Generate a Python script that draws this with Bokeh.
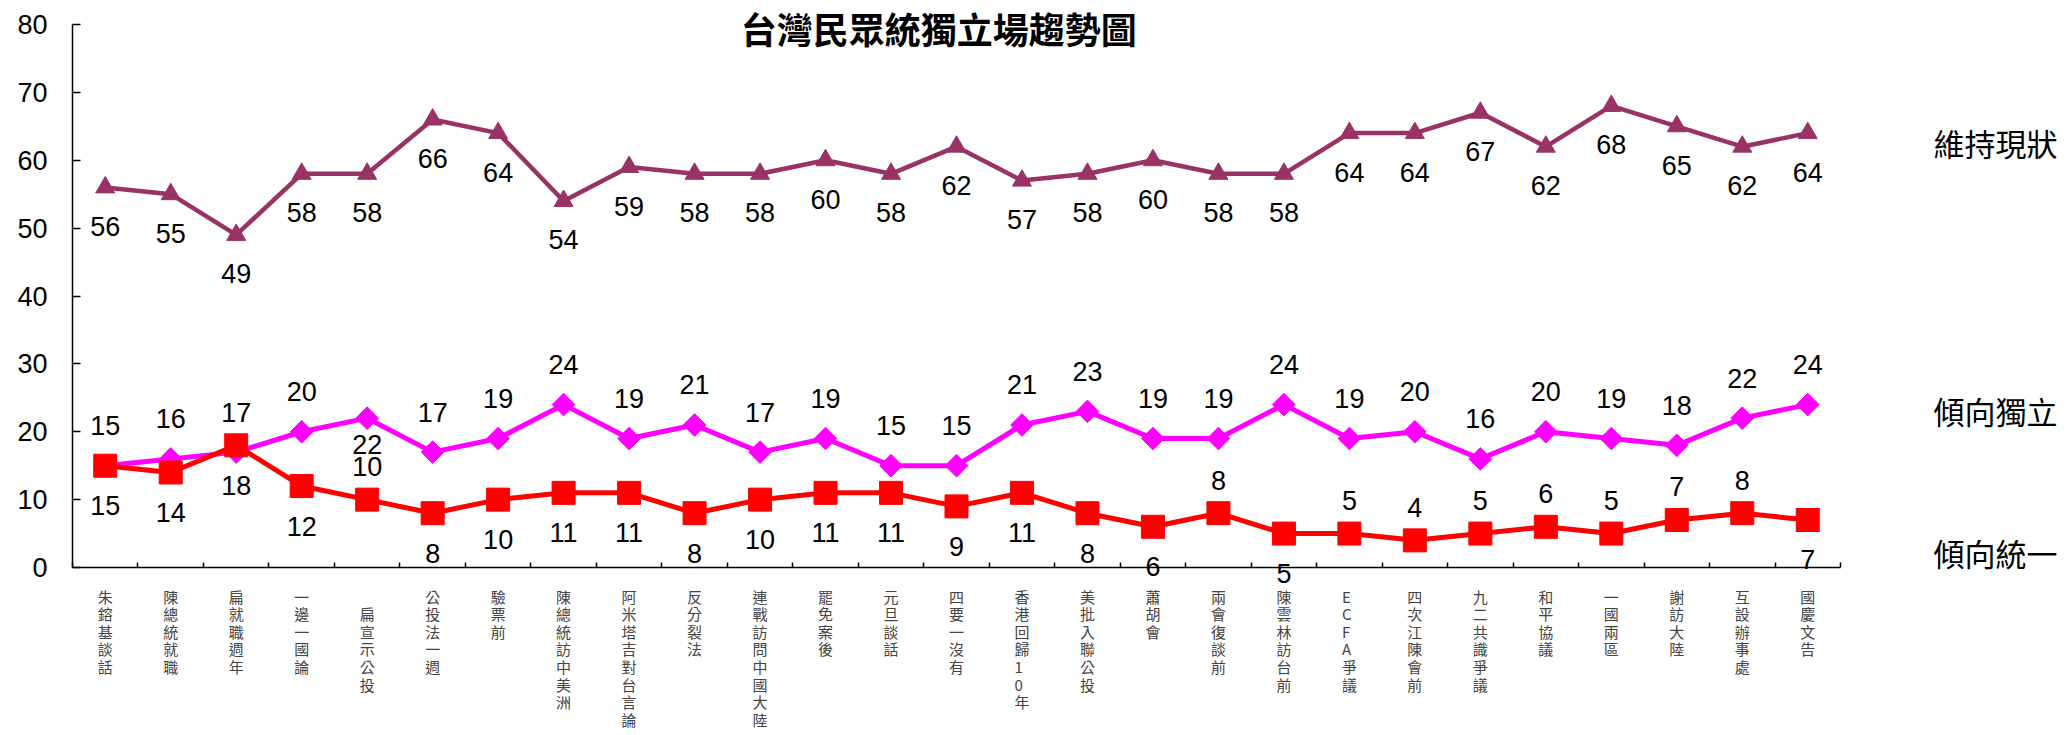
from bokeh.plotting import figure
from bokeh.models import ColumnDataSource, LabelSet, Label, Range1d, FixedTicker
from bokeh.core.properties import value
from bokeh.embed import file_html
from bokeh.resources import INLINE
import math

# ---------------- data ----------------
events = ["朱鎔基談話", "陳總統就職", "扁就職週年", "一邊一國論", "扁宣示公投",
          "公投法一週", "驗票前", "陳總統訪中美洲", "阿米塔吉對台言論", "反分裂法",
          "連戰訪問中國大陸", "罷免案後", "元旦談話", "四要一沒有", "香港回歸10年",
          "美批入聯公投", "蕭胡會", "兩會復談前", "陳雲林訪台前", "ECFA爭議",
          "四次江陳會前", "九二共識爭議", "和平協議", "一國兩區", "謝訪大陸",
          "互設辦事處", "國慶文告"]
status_quo = [56, 55, 49, 58, 58, 66, 64, 54, 59, 58, 58, 60, 58, 62, 57, 58, 60, 58, 58,
              64, 64, 67, 62, 68, 65, 62, 64]
independence = [15, 16, 17, 20, 22, 17, 19, 24, 19, 21, 17, 19, 15, 15, 21, 23, 19, 19, 24,
                19, 20, 16, 20, 19, 18, 22, 24]
unification = [15, 14, 18, 12, 10, 8, 10, 11, 11, 8, 10, 11, 11, 9, 11, 8, 6, 8, 5,
               5, 4, 5, 6, 5, 7, 8, 7]
y_ticks = [0, 10, 20, 30, 40, 50, 60, 70, 80]
title_text = "台灣民眾統獨立場趨勢圖"
series_names = ["維持現狀", "傾向獨立", "傾向統一"]

# label placement (style): indices whose value label sits on the other side
unif_label_above = {4, 17, 19, 20, 21, 22, 23, 24, 25}
indep_label_below = {4}
event_blank_first_line = {4}

n = len(events)
Y_MAX = 80

# ---------------- geometry (canvas px) ----------------
W, H = 2066, 735
AX_L, AX_R = 72, 1840      # canvas x of first and last category edge
AX_T, AX_B = 24, 567       # canvas y of value 80 and value 0
px_x = (AX_R - AX_L) / n
px_y = (AX_B - AX_T) / Y_MAX
x0 = -AX_L / px_x
x1 = n + (W - AX_R) / px_x
y1 = Y_MAX + AX_T / px_y
y0 = -(H - AX_B) / px_y

p = figure(width=W, height=H, output_backend="svg", toolbar_location=None, title=None,
           x_range=Range1d(x0, x1), y_range=Range1d(y0, y1),
           min_border=0, min_border_left=0, min_border_right=0,
           min_border_top=0, min_border_bottom=0)
p.outline_line_color = None
p.xgrid.grid_line_color = None
p.ygrid.grid_line_color = None
p.background_fill_color = "white"
p.border_fill_color = "white"

xs = [i + 0.5 for i in range(n)]

# x axis: fixed at value 0, boundary ticks only
xa = p.xaxis[0]
xa.fixed_location = 0
xa.bounds = (0, n)
xa.ticker = FixedTicker(ticks=[], minor_ticks=list(range(n + 1)))
xa.axis_line_color = "black"
xa.axis_line_width = 1.5
xa.minor_tick_line_color = "black"
xa.minor_tick_line_width = 1.5
xa.minor_tick_in = 5
xa.minor_tick_out = 0
xa.major_tick_line_color = None

# y axis: fixed at x = 0
ya = p.yaxis[0]
ya.fixed_location = 0
ya.bounds = (0, Y_MAX)
ya.ticker = FixedTicker(ticks=y_ticks, minor_ticks=[])
ya.axis_line_color = "black"
ya.axis_line_width = 1.5
ya.major_tick_line_color = "black"
ya.major_tick_line_width = 1.5
ya.major_tick_in = 8
ya.major_tick_out = 0
ya.minor_tick_line_color = None
ya.major_label_text_font = "Liberation Sans"
ya.major_label_text_font_size = "27px"
ya.major_label_text_color = "black"
ya.major_label_standoff = 25

# ---------------- series ----------------
c_sq, c_ind, c_uni = "#993366", "#FF00FF", "#FF0000"

src_sq = ColumnDataSource(dict(x=xs, y=status_quo))
src_ind = ColumnDataSource(dict(x=xs, y=independence))
src_uni = ColumnDataSource(dict(x=xs, y=unification))

p.line("x", "y", source=src_sq, line_color=c_sq, line_width=4.5)
p.scatter("x", "y", source=src_sq, marker="triangle", size=19, fill_color=c_sq, line_color=c_sq)

p.line("x", "y", source=src_ind, line_color=c_ind, line_width=5)
p.scatter("x", "y", source=src_ind, marker="square", angle=math.pi / 4, size=16,
          fill_color=c_ind, line_color=c_ind)

p.line("x", "y", source=src_uni, line_color=c_uni, line_width=5)
p.scatter("x", "y", source=src_uni, marker="square", size=23, fill_color=c_uni, line_color=c_uni)

# ---------------- value labels ----------------
def subset(xv, yv, idx):
    idx = list(idx)
    return ColumnDataSource(dict(x=[xv[i] for i in idx], y=[yv[i] for i in idx],
                                 t=[str(yv[i]) for i in idx]))

lab_kw = dict(x="x", y="y", text="t", text_font=value("Liberation Sans"),
              text_font_size=value("27px"), text_color="black",
              text_align="center", text_baseline="middle")

p.add_layout(LabelSet(source=subset(xs, status_quo, range(n)), y_offset=-39, **lab_kw))

ind_above = [i for i in range(n) if i not in indep_label_below]
ind_below = [i for i in range(n) if i in indep_label_below]
p.add_layout(LabelSet(source=subset(xs, independence, ind_above), y_offset=40, **lab_kw))
p.add_layout(LabelSet(source=subset(xs, independence, ind_below), y_offset=-26, **lab_kw))

uni_above = [i for i in range(n) if i in unif_label_above]
uni_below = [i for i in range(n) if i not in unif_label_above]
p.add_layout(LabelSet(source=subset(xs, unification, uni_above), y_offset=33, **lab_kw))
p.add_layout(LabelSet(source=subset(xs, unification, uni_below), y_offset=-40, **lab_kw))

# ---------------- category labels (vertical) ----------------
vert = []
for i, e in enumerate(events):
    s = "\n".join(list(e))
    if i in event_blank_first_line:
        s = " \n" + s
    vert.append(s)
cat_src = ColumnDataSource(dict(x=xs, y=[0] * n, t=vert))
p.add_layout(LabelSet(source=cat_src, x="x", y="y", text="t", y_offset=-18,
                      text_font=value("Noto Sans CJK TC"), text_font_size=value("15px"),
                      text_color="#444444", text_align="center", text_baseline="top",
                      text_line_height=0.84))

# ---------------- series names on right ----------------
name_y = [62.6, 23.1, 2.2]
for nm, yy in zip(series_names, name_y):
    p.add_layout(Label(x=n, y=yy, x_offset=93, text=nm, text_font="Noto Sans CJK TC",
                       text_font_size="31px", text_color="black", text_align="left",
                       text_baseline="middle"))

# ---------------- title ----------------
p.add_layout(Label(x=13.23, y=y1, y_offset=-1, text=title_text, text_font="Noto Sans CJK TC",
                   text_font_size="36px", text_font_style="bold", text_color="black",
                   text_align="center", text_baseline="top"))

open("out.html", "w").write(file_html(p, INLINE))
